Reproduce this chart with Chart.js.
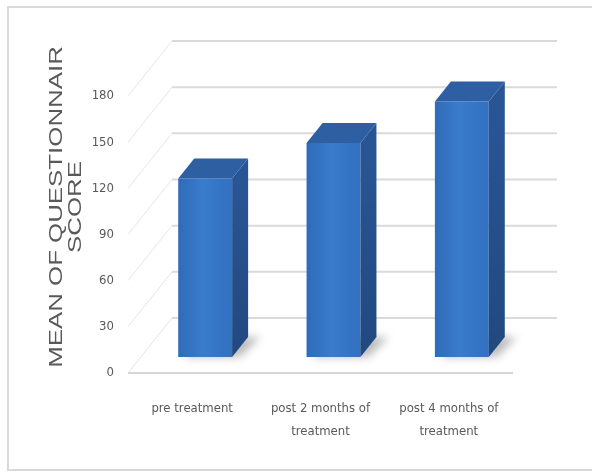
<!DOCTYPE html>
<html>
<head>
<meta charset="utf-8">
<script src="https://cdn.jsdelivr.net/npm/chart.js@4.4.0/dist/chart.umd.min.js"></script>
<style>
    html, body { margin: 0; padding: 0; background: #fff; }
</style>
</head>
<body>
<canvas id="scoreChart" width="592" height="472"></canvas>
<script>
// --- Data ---
const categories = ['pre treatment', ['post 2 months of', 'treatment'], ['post 4 months of', 'treatment']];
const meanScores = [116, 139, 166];
const yTickValues = [0, 30, 60, 90, 120, 150, 180];
const yTitleLines = ['MEAN OF QUESTIONNAIR', 'SCORE'];

// --- 3D look (px offsets) ---
const wallDepth = { x: 44, y: -55 };
const barShift = { x: 13, y: -16 };
const barDepth = { x: 16, y: -20 };
const barFraction = 0.42;

const textGrey = '#595959';
const narrowFont = '"DejaVu Sans Condensed", "Liberation Sans Narrow", sans-serif';

function frontGradient(context) {
    const chart = context.chart;
    const xs = chart.scales.x;
    if (!xs || !chart.chartArea) return '#3673c4';
    const cx = xs.getPixelForValue(context.dataIndex);
    const w = (xs.right - xs.left) / categories.length * barFraction;
    const g = chart.ctx.createLinearGradient(cx - w / 2, 0, cx + w / 2, 0);
    g.addColorStop(0, '#2f6bb7');
    g.addColorStop(0.45, '#3a7bcc');
    g.addColorStop(1, '#3270c0');
    return g;
}

const box3d = {
    id: 'box3d',
    beforeDraw(chart) {
        const ctx = chart.ctx;
        ctx.save();
        ctx.fillStyle = '#ffffff';
        ctx.fillRect(0, 0, chart.width, chart.height);
        ctx.strokeStyle = '#d9d9d9';
        ctx.lineWidth = 2;
        ctx.strokeRect(8, 7, 590, 463);
        ctx.restore();
    },
    beforeDatasetsDraw(chart) {
        const ctx = chart.ctx;
        const area = chart.chartArea;
        const ys = chart.scales.y;
        ctx.save();
        // back wall gridlines + side diagonals
        yTickValues.forEach(v => {
            const y = ys.getPixelForValue(v);
            ctx.strokeStyle = '#e6e6e6';
            ctx.lineWidth = 1;
            ctx.beginPath();
            ctx.moveTo(area.left, y);
            ctx.lineTo(area.left + wallDepth.x, y + wallDepth.y);
            ctx.stroke();
            ctx.strokeStyle = '#dadada';
            ctx.lineWidth = 2;
            ctx.beginPath();
            ctx.moveTo(area.left + wallDepth.x, y + wallDepth.y);
            ctx.lineTo(area.right + wallDepth.x, y + wallDepth.y);
            ctx.stroke();
        });
        // floor front edge
        const y0 = ys.getPixelForValue(0);
        ctx.strokeStyle = '#d6d6d6';
        ctx.lineWidth = 2;
        ctx.beginPath();
        ctx.moveTo(area.left, y0);
        ctx.lineTo(area.right, y0);
        ctx.stroke();
        ctx.restore();

        // bars sit part way into the floor
        ctx.save();
        ctx.translate(barShift.x, barShift.y);
        // soft shadows
        const meta = chart.getDatasetMeta(0);
        ctx.save();
        ctx.filter = 'blur(4px)';
        ctx.fillStyle = 'rgba(60,60,60,0.35)';
        meta.data.forEach(el => {
            const p = el.getProps(['x', 'base', 'width'], true);
            const l = p.x - p.width / 2, r = p.x + p.width / 2;
            ctx.beginPath();
            ctx.moveTo(l + 6, p.base);
            ctx.lineTo(r + 8, p.base);
            ctx.lineTo(r + barDepth.x + 12, p.base + barDepth.y);
            ctx.lineTo(l + barDepth.x + 6, p.base + barDepth.y);
            ctx.closePath();
            ctx.fill();
        });
        ctx.restore();
    },
    afterDatasetsDraw(chart) {
        const ctx = chart.ctx;
        const meta = chart.getDatasetMeta(0);
        meta.data.forEach(el => {
            const p = el.getProps(['x', 'y', 'base', 'width'], true);
            const l = p.x - p.width / 2, r = p.x + p.width / 2;
            // side face
            const sg = ctx.createLinearGradient(0, p.y, 0, p.base);
            sg.addColorStop(0, '#2a5595');
            sg.addColorStop(1, '#21497f');
            ctx.fillStyle = sg;
            ctx.beginPath();
            ctx.moveTo(r, p.y);
            ctx.lineTo(r + barDepth.x, p.y + barDepth.y);
            ctx.lineTo(r + barDepth.x, p.base + barDepth.y);
            ctx.lineTo(r, p.base);
            ctx.closePath();
            ctx.fill();
            // top face
            ctx.fillStyle = '#2d5fa2';
            ctx.beginPath();
            ctx.moveTo(l, p.y);
            ctx.lineTo(l + barDepth.x, p.y + barDepth.y);
            ctx.lineTo(r + barDepth.x, p.y + barDepth.y);
            ctx.lineTo(r, p.y);
            ctx.closePath();
            ctx.fill();
        });
        ctx.restore();
    },
    afterDraw(chart) {
        // axis title, stretched along the text like the original
        const ctx = chart.ctx;
        ctx.save();
        ctx.translate(57, 207);
        ctx.rotate(-Math.PI / 2);
        ctx.scale(1.36, 1);
        ctx.font = '19px "Liberation Sans", Arial, sans-serif';
        ctx.fillStyle = textGrey;
        ctx.textAlign = 'center';
        ctx.textBaseline = 'middle';
        yTitleLines.forEach((line, i) => ctx.fillText(line, 0, i * 19));
        ctx.restore();
    }
};

const chart = new Chart(document.getElementById('scoreChart').getContext('2d'), {
    type: 'bar',
    data: {
        labels: categories,
        datasets: [{
            label: 'Mean of questionnaire score',
            data: meanScores,
            backgroundColor: frontGradient,
            borderWidth: 0,
            barPercentage: barFraction,
            categoryPercentage: 1,
            clip: false
        }]
    },
    options: {
        responsive: false,
        animation: false,
        layout: { padding: { left: 0, right: 79, top: 96, bottom: 0 } },
        plugins: {
            legend: { display: false },
            tooltip: { enabled: false }
        },
        scales: {
            x: {
                grid: { display: false, drawTicks: false },
                border: { display: false },
                ticks: {
                    color: textGrey,
                    font: { family: narrowFont, size: 13, lineHeight: 1.7 },
                    padding: 25,
                    maxRotation: 0,
                    autoSkip: false
                },
                afterFit: s => { s.height = 99; }
            },
            y: {
                min: 0,
                max: 180,
                grid: { display: false, drawTicks: false },
                border: { display: false },
                afterBuildTicks: s => { s.ticks = yTickValues.map(v => ({ value: v })); },
                ticks: {
                    color: textGrey,
                    font: { family: narrowFont, size: 13 },
                    padding: 14
                },
                afterFit: s => { s.width = 128; }
            }
        }
    },
    plugins: [box3d]
});
</script>
</body>
</html>
